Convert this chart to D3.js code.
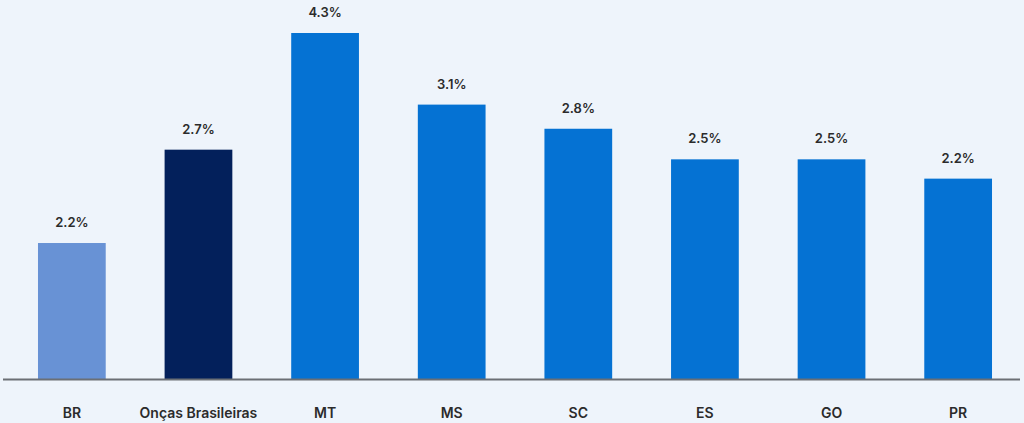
<!DOCTYPE html>
<html>
<head>
<meta charset="utf-8">
<script src="https://cdn.jsdelivr.net/npm/d3@7"></script>
<style>
  html, body { margin: 0; padding: 0; background: #eef4fb; }
  svg { display: block; font-family: Inter, "Noto Sans", sans-serif; }
</style>
</head>
<body>
<svg width="1024" height="423"></svg>
<script>
const categories = ["BR", "Onças Brasileiras", "MT", "MS", "SC", "ES", "GO", "PR"];
// bar lengths as drawn in the picture (they don't follow the printed labels exactly)
const values = [1.69, 2.85, 4.3, 3.41, 3.11, 2.73, 2.73, 2.49];
const valueLabels = ["2.2%", "2.7%", "4.3%", "3.1%", "2.8%", "2.5%", "2.5%", "2.2%"];
const colors = ["#6892d5", "#03205b", "#0572d3", "#0572d3", "#0572d3", "#0572d3", "#0572d3", "#0572d3"];

const svg = d3.select("svg");
const baseY = 379;

const x = d3.scaleBand().domain(categories).range([0, 1030]).paddingInner(0.465).paddingOuter(0.3);
const y = d3.scaleLinear().domain([0, 4.3]).range([baseY, 33]);

svg.selectAll("rect.bar").data(categories).enter().append("rect")
    .attr("class", "bar")
    .attr("x", d => x(d))
    .attr("width", x.bandwidth())
    .attr("y", (d, i) => y(values[i]))
    .attr("height", (d, i) => baseY - y(values[i]))
    .attr("fill", (d, i) => colors[i]);

svg.append("line")
    .attr("x1", 3).attr("x2", 1020)
    .attr("y1", baseY + 0.5).attr("y2", baseY + 0.5)
    .attr("stroke", "#6b6f75").attr("stroke-width", 2);

svg.selectAll("text.val").data(categories).enter().append("text")
    .attr("class", "val")
    .attr("x", d => x(d) + x.bandwidth() / 2)
    .attr("y", (d, i) => y(values[i]) - 16)
    .attr("text-anchor", "middle")
    .attr("font-size", 13).attr("font-weight", 600)
    .attr("fill", "#2b2b2b")
    .text((d, i) => valueLabels[i]);

svg.selectAll("text.cat").data(categories).enter().append("text")
    .attr("class", "cat")
    .attr("x", d => x(d) + x.bandwidth() / 2)
    .attr("y", 418)
    .attr("text-anchor", "middle")
    .attr("font-size", 14).attr("font-weight", 600)
    .attr("fill", "#2b2b2b")
    .text(d => d);
</script>
</body>
</html>
